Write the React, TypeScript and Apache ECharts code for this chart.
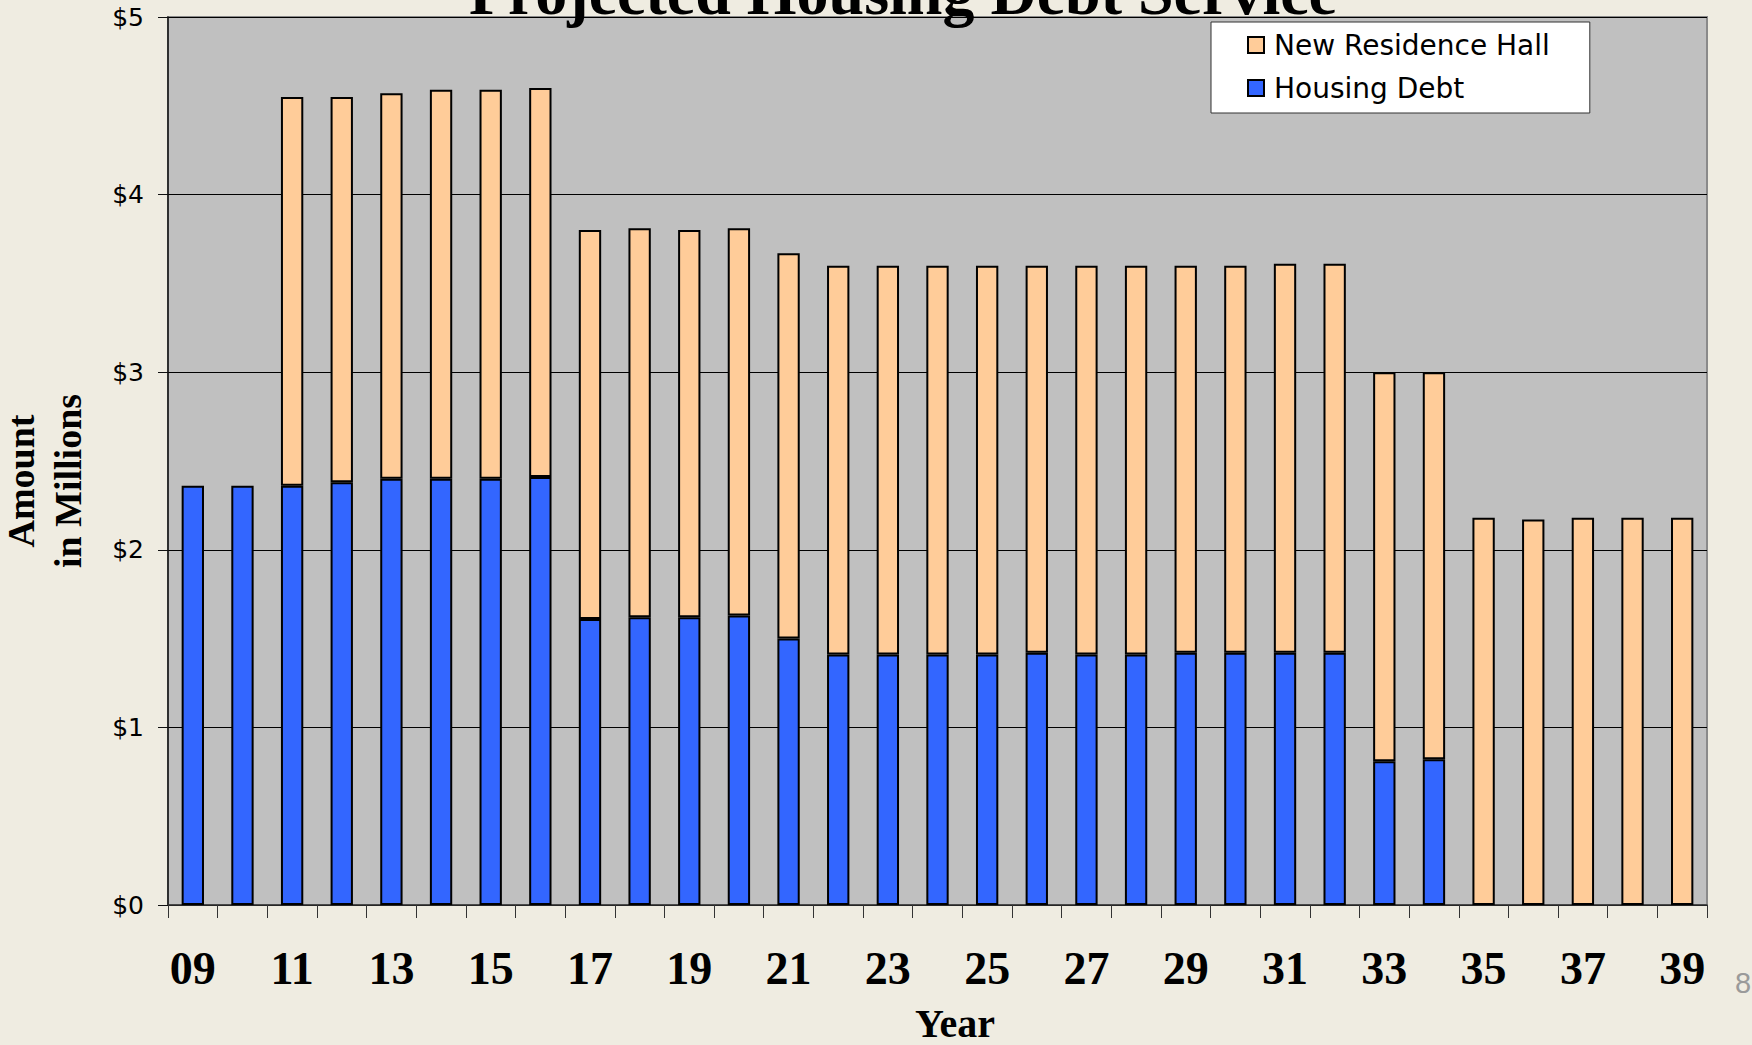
import React, { useEffect, useRef } from "react";
import * as echarts from "echarts";

const years = ["09","10","11","12","13","14","15","16","17","18","19","20","21","22","23","24","25","26","27","28","29","30","31","32","33","34","35","36","37","38","39"];
const housingDebt = [2.36,2.36,2.36,2.38,2.40,2.40,2.40,2.41,1.61,1.62,1.62,1.63,1.50,1.41,1.41,1.41,1.41,1.42,1.41,1.41,1.42,1.42,1.42,1.42,0.81,0.82,0,0,0,0,0];
const newResidenceHall = [0,0,2.19,2.17,2.17,2.19,2.19,2.19,2.19,2.19,2.18,2.18,2.17,2.19,2.19,2.19,2.19,2.18,2.19,2.19,2.18,2.18,2.19,2.19,2.19,2.18,2.18,2.17,2.18,2.18,2.18];
const seriesNames = ["New Residence Hall", "Housing Debt"];
const yTicks = [0, 1, 2, 3, 4, 5];

const W = 1752;
const H = 1045;
const SERIF = "'Liberation Serif', 'Times New Roman', serif";
const SANS = "'Liberation Sans', Arial, sans-serif";
const WIDE_SANS = "'DejaVu Sans', 'Liberation Sans', sans-serif";

export default function App() {
  const ref = useRef<HTMLDivElement>(null);
  useEffect(() => {
    document.body.style.margin = "0";
    const chart = echarts.init(ref.current!, null, { renderer: "svg" });
    const nz = (a: number[]) => a.map((v) => (v === 0 ? null : v));
    chart.setOption({
      animation: false,
      backgroundColor: "#EFECE1",
      grid: {
        left: 168,
        top: 17,
        right: W - 1707,
        bottom: H - 905,
        show: true,
        backgroundColor: "#C0C0C0",
        borderColor: "#8a8a8a",
        borderWidth: 2,
      },
      legend: {
        data: seriesNames,
        orient: "vertical",
        left: 1211,
        top: 22,
        padding: [9, 40, 11, 36],
        itemGap: 15,
        itemWidth: 16,
        itemHeight: 16,
        backgroundColor: "#FFFFFF",
        borderColor: "#333333",
        borderWidth: 1,
        icon: "rect",
        textStyle: { fontFamily: WIDE_SANS, fontSize: 28, color: "#000", padding: [0, 0, 0, 5] },
      },
      xAxis: {
        type: "category",
        data: years,
        boundaryGap: true,
        axisLine: { lineStyle: { color: "#333", width: 1.5 } },
        axisTick: { show: true, interval: 0, length: 13, lineStyle: { color: "#333", width: 1 } },
        axisLabel: {
          interval: 1,
          margin: 40,
          fontFamily: SERIF,
          fontWeight: "bold",
          fontSize: 46,
          color: "#000",
        },
      },
      yAxis: {
        type: "value",
        min: yTicks[0],
        max: yTicks[yTicks.length - 1],
        interval: 1,
        axisLine: { show: true, lineStyle: { color: "#111", width: 1.5 } },
        axisTick: { show: true, length: 10, lineStyle: { color: "#111" } },
        splitLine: { show: true, lineStyle: { color: "#000", width: 1 } },
        axisLabel: {
          margin: 24,
          fontFamily: WIDE_SANS,
          fontSize: 25,
          color: "#000",
          formatter: (v: number) => "$" + v,
        },
      },
      series: [
        {
          name: "Housing Debt",
          type: "bar",
          stack: "total",
          barWidth: "45%",
          data: nz(housingDebt),
          itemStyle: { color: "#3366FF", borderColor: "#000", borderWidth: 2 },
        },
        {
          name: "New Residence Hall",
          type: "bar",
          stack: "total",
          barWidth: "45%",
          data: nz(newResidenceHall),
          itemStyle: { color: "#FFCC99", borderColor: "#000", borderWidth: 2 },
        },
      ],
      graphic: [
        {
          type: "text",
          x: 903,
          y: -8,
          style: {
            text: "Projected Housing Debt Service",
            fontFamily: SERIF,
            fontWeight: "bold",
            fontSize: 64,
            fill: "#000",
            align: "center",
            verticalAlign: "middle",
          },
        },
        {
          type: "text",
          x: 955,
          y: 1023,
          style: {
            text: "Year",
            fontFamily: SERIF,
            fontWeight: "bold",
            fontSize: 40,
            fill: "#000",
            align: "center",
            verticalAlign: "middle",
          },
        },
        {
          type: "text",
          x: 44,
          y: 481,
          rotation: Math.PI / 2,
          style: {
            text: "Amount\nin Millions",
            fontFamily: SERIF,
            fontWeight: "bold",
            fontSize: 38,
            lineHeight: 47,
            fill: "#000",
            align: "center",
            verticalAlign: "middle",
          },
        },
        {
          type: "text",
          x: 1735,
          y: 983,
          style: {
            text: "8",
            fontFamily: SANS,
            fontSize: 29,
            fill: "#9a9a9a",
            align: "left",
            verticalAlign: "middle",
          },
        },
      ],
    });
    return () => chart.dispose();
  }, []);
  return <div ref={ref} style={{ width: W, height: H }} />;
}
